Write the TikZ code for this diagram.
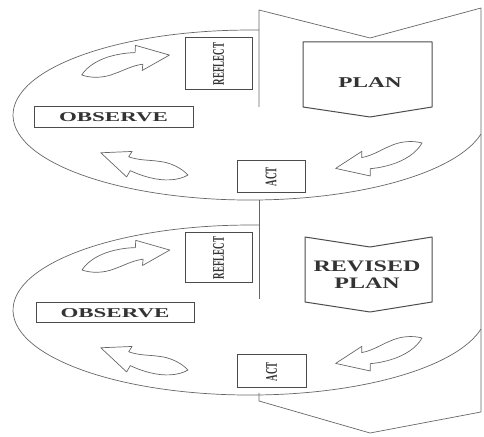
\documentclass[tikz,border=0pt]{standalone}
\usepackage{fontspec}
\setmainfont{Liberation Serif}
\usepackage{graphicx}

% stretched labels, as in the scanned figure
\newcommand{\widelabel}[3]{{\fontsize{#1}{#1}\selectfont\bfseries\scalebox{#2}[1]{#3}}}
\newcommand{\uplabel}[1]{\rotatebox{90}{\fontsize{9}{9}\selectfont\bfseries\scalebox{1}[1.8]{#1}}}

\tikzset{
  outline/.style={draw=black!60, line width=0.7pt, line join=round},
  stagebox/.style={draw=black!70, line width=1pt, fill=white, inner sep=0pt, text=black!80},
  stagetext/.style={text=black!80, inner sep=0pt, align=center},
  bendarrow/.pic={
    \draw[outline] (0,0) .. controls (8,8) and (22,12) .. (36,12)
      .. controls (46,12) and (52,11) .. (57,10) -- (59,17) -- (90,0) -- (60,-9)
      -- (62,-3) .. controls (50,-2) and (42,-5) .. (32,-6)
      .. controls (20,-8) and (8,-5) .. cycle;
  }
}

\begin{document}
\begin{tikzpicture}[x=1pt, y=1pt]
  \useasboundingbox (0,0) rectangle (484,436);
  % banner behind both cycles
  \draw[outline] (259,329) -- (259,426) -- (370,398) -- (481,428) -- (481,24)
    -- (370,3) -- (259,35) -- (259,43);
  \draw[outline] (259,236) -- (259,137);

  % first cycle
  \draw[outline] (259.1,405.9) arc[start angle=87.8, end angle=347.1, x radius=237, y radius=85];
  \node[stagebox, minimum width=67pt, minimum height=52pt] (reflect1) at (218.5,372) {\uplabel{REFLECT}};
  \node[stagebox, minimum width=159pt, minimum height=21pt] (observe1) at (113.5,318.5) {\widelabel{13.5}{1.7}{OBSERVE}};
  \node[stagebox, minimum width=68pt, minimum height=32pt] (act1) at (271,259) {\uplabel{ACT}};
  \draw[outline, draw=black!70, line width=1pt] (303,394) -- (432,394) -- (432,329) -- (370,319) -- (303,329) -- cycle;
  \node[stagetext] (plan1) at (370,353) {\widelabel{15}{1.55}{PLAN}};
  \pic[rotate=12.8] at (81.7,361) {bendarrow};
  \pic[rotate=165.7] at (188,261) {bendarrow};
  \pic[rotate=196.4] at (422,293) {bendarrow};

  % second cycle
  \draw[outline] (259.1,210.9) arc[start angle=87.8, end angle=347.1, x radius=237, y radius=85];
  \node[stagebox, minimum width=67pt, minimum height=50pt] (reflect2) at (218.5,178) {\uplabel{REFLECT}};
  \node[stagebox, minimum width=158pt, minimum height=20pt] (observe2) at (115,123) {\widelabel{13.5}{1.7}{OBSERVE}};
  \node[stagebox, minimum width=69pt, minimum height=33pt] (act2) at (271.5,64.5) {\uplabel{ACT}};
  \draw[outline, draw=black!70, line width=1pt] (305,199) -- (370,189) -- (432,199) -- (432,134) -- (370,124) -- (305,134) -- cycle;
  \node[stagetext, font=\fontsize{16}{16.5}\selectfont\bfseries] (plan2) at (367,161.5)
    {\scalebox{1.5}[1]{REVISED}\\\scalebox{1.5}[1]{PLAN}};
  \pic[rotate=12.8] at (82,166) {bendarrow};
  \pic[rotate=165.7] at (188,66) {bendarrow};
  \pic[rotate=196.4] at (422,98) {bendarrow};
\end{tikzpicture}
\end{document}
